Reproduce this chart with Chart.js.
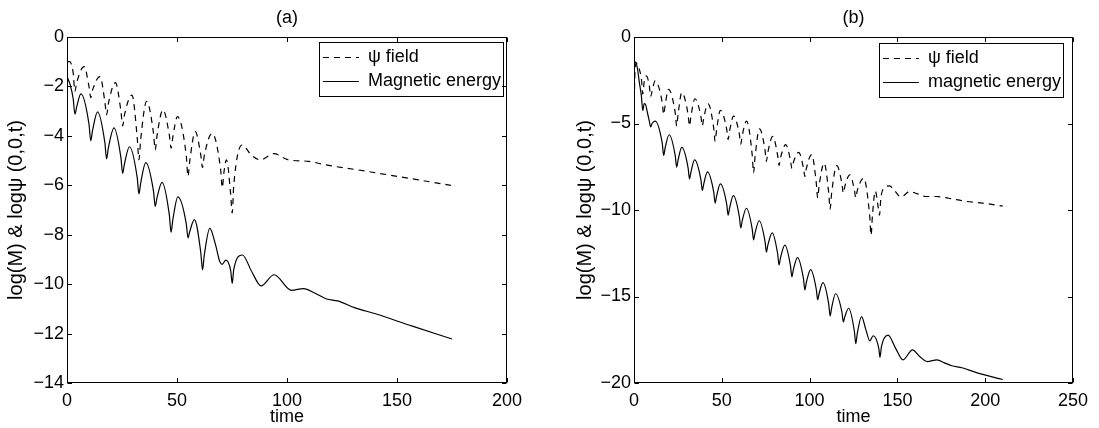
<!DOCTYPE html>
<html>
<head>
<meta charset="utf-8">
<script src="https://cdn.jsdelivr.net/npm/chart.js@4.4.1/dist/chart.umd.min.js"></script>
<style>
  html, body { margin: 0; padding: 0; background: #fff; overflow: hidden; }
  #panelA { position: absolute; left: 0; top: 0; }
  #panelB { position: absolute; left: 560px; top: 0; }
</style>
</head>
<body>
<canvas id="panelA" width="530" height="428"></canvas>
<canvas id="panelB" width="539" height="428"></canvas>
<script>
"use strict";

// ---- panel (a) ----
const timeMagA = [0, 1.5, 2.8, 3.6, 4.4, 6.3, 10.0, 10.8, 11.6, 13.9, 17.2, 18.0, 18.8, 21.4, 24.5, 25.3, 26.1, 28.4,
  31.9, 32.7, 33.5, 35.8, 39.3, 40.1, 40.9, 43.2, 46.5, 47.3, 48.1, 50.4, 54.2, 55.0, 55.8, 57.9, 60.8, 61.6, 62.4,
  64.9, 67.5, 69.5, 70.5, 72.2, 74.4, 75.1, 75.8, 79.7, 84.0, 88.2, 94.1, 102.1, 107.5, 113.0, 118.0, 123.0, 131.0,
  140.2, 157.0, 175.0];
const magA = [-1.6, -1.95, -2.5, -3.12, -2.83, -2.3, -3.53, -4.2, -3.79, -3.03, -4.27, -4.93, -4.49, -3.68, -4.88, -5.52, -5.14, -4.44,
  -5.68, -6.35, -5.91, -5.08, -6.23, -6.85, -6.51, -5.88, -7.19, -7.9, -7.4, -6.47, -7.55, -8.13, -7.87, -7.39, -8.71, -9.42, -8.83,
  -7.74, -8.4, -9.1, -9.2, -9.03, -9.45, -9.97, -9.4, -8.82, -9.5, -10.07, -9.62, -10.25, -10.18, -10.38, -10.6, -10.68, -10.96,
  -11.2, -11.7, -12.22];

const timePsiA = [0, 1.2, 2.8, 3.6, 4.4, 7.8, 10.0, 10.8, 11.6, 15.0, 17.2, 18.0, 18.8, 22.0, 24.5, 25.3, 26.1, 29.5,
  31.9, 32.7, 33.5, 36.2, 39.3, 40.1, 40.9, 43.6, 46.5, 47.3, 48.1, 50.2, 54.2, 55.0, 55.8, 58.3, 60.8, 61.6, 62.4,
  66.0, 69.8, 70.6, 71.3, 72.5, 74.4, 75.1, 75.8, 79.6, 84.0, 88.0, 94.0, 100.7, 109.8, 117.3, 132.4, 174.5];
const psiA = [-1.0, -1.0, -1.45, -2.2, -1.85, -1.2, -2.01, -2.45, -2.15, -1.6, -2.61, -3.15, -2.7, -1.85, -2.99, -3.6, -3.16, -2.35,
  -4.05, -4.97, -4.14, -2.6, -3.88, -4.57, -4.0, -2.95, -3.96, -4.5, -4.05, -3.22, -4.79, -5.64, -5.01, -3.83, -4.77, -5.28, -4.8,
  -3.9, -5.33, -6.1, -5.5, -4.97, -6.37, -7.12, -6.0, -4.37, -4.8, -4.97, -4.72, -4.97, -5.03, -5.17, -5.38, -6.0];

const xTicksA = [0, 50, 100, 150, 200];
const yTicksA = [0, -2, -4, -6, -8, -10, -12, -14];

// ---- panel (b) ----
const timeMagB = [0, 1.0, 2.0, 3.0, 4.2, 5.0, 5.8, 6.6, 7.6, 8.7, 9.5, 10.3, 12.0, 16.1, 16.9, 17.7, 20.0, 23.5, 24.3, 25.1,
  27.2, 30.8, 31.6, 32.4, 34.5, 38.1, 38.9, 39.7, 41.8, 45.4, 46.2, 47.0, 49.2, 52.8, 53.6, 54.4, 56.6, 60.0, 60.8, 61.6,
  64.0, 67.3, 68.1, 68.9, 71.3, 74.6, 75.4, 76.2, 78.7, 81.8, 82.6, 83.4, 85.9, 89.1, 89.9, 90.7, 93.1, 96.5, 97.3, 98.1,
  100.6, 103.8, 104.6, 105.4, 107.6, 110.9, 111.7, 112.5, 114.8, 118.4, 119.2, 120.0, 122.2, 125.5, 126.3, 127.1, 129.6,
  132.0, 134.3, 136.2, 139.4, 140.1, 140.9, 144.7, 149.0, 153.2, 158.6, 163.0, 167.0, 172.6, 176.5, 181.0, 186.8, 195.0, 210.0];
const magB = [-1.55, -1.45, -1.85, -2.6, -3.4, -4.25, -3.85, -3.9, -4.35, -4.85, -5.2, -5.0, -4.86, -6.15, -6.85, -6.43, -5.65, -6.87, -7.52, -7.12,
  -6.38, -7.56, -8.2, -7.82, -7.1, -8.25, -8.87, -8.5, -7.8, -8.97, -9.6, -9.21, -8.49, -9.67, -10.3, -9.9, -9.17, -10.39, -11.04, -10.64,
  -9.9, -11.09, -11.73, -11.34, -10.62, -11.8, -12.43, -12.04, -11.32, -12.53, -13.18, -12.78, -12.03, -13.22, -13.86, -13.47, -12.75, -13.97, -14.62, -14.21,
  -13.45, -14.58, -15.19, -14.84, -14.2, -15.45, -16.13, -15.68, -14.84, -15.9, -16.47, -16.19, -15.68, -17.01, -17.72, -17.17, -16.16,
  -16.9, -17.56, -17.27, -18.0, -18.52, -17.9, -17.23, -18.0, -18.66, -18.08, -18.5, -18.76, -18.66, -18.82, -19.0, -19.12, -19.4, -19.8];

const timePsiB = [0, 0.5, 1.2, 2.0, 3.4, 4.3, 5.0, 5.8, 7.0, 8.7, 9.5, 10.3, 12.0, 16.1, 16.9, 17.7, 19.6, 23.5, 24.3, 25.1,
  27.2, 30.8, 31.6, 32.4, 34.7, 38.1, 38.9, 39.7, 42.2, 45.4, 46.2, 47.0, 49.2, 52.8, 53.6, 54.4, 56.7, 60.0, 60.8, 61.6,
  64.1, 67.3, 68.1, 68.9, 71.5, 74.6, 75.4, 76.2, 79.0, 81.8, 82.6, 83.4, 86.4, 89.1, 89.9, 90.7, 93.8, 96.5, 97.3, 98.1,
  101.2, 103.8, 104.6, 105.4, 108.3, 110.9, 111.7, 112.5, 115.5, 118.4, 119.2, 120.0, 122.9, 125.5, 126.3, 127.1, 130.8,
  134.2, 135.0, 135.8, 137.4, 139.0, 139.8, 140.6, 142.8, 145.5, 148.5, 152.0, 157.0, 161.0, 166.0, 172.0, 179.2, 189.0, 198.5, 210.0];
const psiB = [-4.3, -2.2, -1.5, -1.6, -2.0, -2.5, -3.3, -2.6, -2.25, -2.8, -3.45, -3.13, -2.54, -3.8, -4.48, -3.97, -3.02, -4.4, -5.15, -4.47,
  -3.22, -4.47, -5.14, -4.59, -3.57, -4.59, -5.14, -4.69, -3.86, -5.27, -6.03, -5.4, -4.24, -5.34, -5.93, -5.45, -4.57, -5.62, -6.19, -5.72,
  -4.86, -6.8, -7.85, -6.96, -5.31, -6.53, -7.19, -6.68, -5.74, -6.84, -7.43, -7.0, -6.22, -7.12, -7.6, -7.27, -6.67, -7.57, -8.06, -7.62,
  -6.8, -8.43, -9.31, -8.6, -7.29, -9.02, -9.95, -9.07, -7.44, -8.47, -9.03, -8.66, -7.97, -8.83, -9.3, -8.9, -8.16,
  -10.3, -11.45, -10.3, -8.9, -9.8, -10.3, -9.3, -8.7, -8.6, -8.9, -9.25, -8.93, -9.05, -9.22, -9.22, -9.32, -9.5, -9.6, -9.78];

const xTicksB = [0, 50, 100, 150, 200, 250];
const yTicksB = [0, -5, -10, -15, -20];

Chart.defaults.font.family = "'Liberation Sans', Arial, Helvetica, sans-serif";
Chart.defaults.font.size = 18;
Chart.defaults.color = "#000";

const toPoints = (ts, vs) => ts.map((t, i) => ({ x: t, y: vs[i] }));
const minus = (v) => String(v).replace("-", "\u2212");

// box around the plot and MATLAB-like inward ticks on all four sides
const frame = {
  id: "frame",
  afterDraw(chart) {
    const { ctx, chartArea: a, scales: { x, y } } = chart;
    const L = Math.round(a.left) + 0.5, R = Math.round(a.right) - 0.5;
    const T = Math.round(a.top) + 0.5, B = Math.round(a.bottom) - 0.5;
    const len = 4.5;
    ctx.save();
    ctx.strokeStyle = "#000";
    ctx.lineWidth = 1;
    ctx.strokeRect(L, T, R - L, B - T);
    ctx.beginPath();
    x.ticks.forEach((tk) => {
      const px = Math.round(x.getPixelForValue(tk.value)) + 0.5;
      ctx.moveTo(px, B); ctx.lineTo(px, B - len);
      ctx.moveTo(px, T); ctx.lineTo(px, T + len);
    });
    y.ticks.forEach((tk) => {
      const py = Math.round(y.getPixelForValue(tk.value)) + 0.5;
      ctx.moveTo(L, py); ctx.lineTo(L + len, py);
      ctx.moveTo(R, py); ctx.lineTo(R - len, py);
    });
    ctx.stroke();
    ctx.restore();
  },
};

// put the legend in the top right corner of the plot and draw its box
const legendPlace = {
  id: "legendPlace",
  afterLayout(chart, args, opts) {
    const lg = chart.legend;
    const ca = chart.chartArea;
    if (!lg || !lg.columnSizes) return;
    const pad = lg.options.labels.padding;
    const colW = lg.columnSizes[0].width;
    lg.left = ca.right - opts.right - colW - pad;
    lg.width = colW + 2 * pad + 4;
    lg.right = lg.left + lg.width;
    lg.top = ca.top + opts.top;
    lg.height = 80;
    lg.bottom = lg.top + lg.height;
  },
  afterDraw(chart, args, opts) {
    const lg = chart.legend;
    if (!lg || !lg.columnSizes) return;
    const pad = lg.options.labels.padding;
    const colW = lg.columnSizes[0].width;
    const x0 = Math.round(lg.left + pad - 4) + 0.5;
    const x1 = Math.round(lg.left + pad + colW + 2) + 0.5;
    const y0 = Math.round(lg.top + pad - 6.5) + 0.5;
    const y1 = Math.round(lg.top + pad + 18 + 24 + 5) + 0.5;
    const ctx = chart.ctx;
    ctx.save();
    ctx.strokeStyle = "#000";
    ctx.lineWidth = 1;
    ctx.strokeRect(x0, y0, x1 - x0, y1 - y0);
    ctx.restore();
  },
};

function makePanel(canvas, cfg) {
  return new Chart(canvas, {
    type: "line",
    data: {
      datasets: [
        {
          label: "\u03c8 field",
          data: toPoints(cfg.timePsi, cfg.psi),
          borderColor: "#000",
          backgroundColor: "#000",
          borderWidth: 1.2,
          borderDash: [6, 5],
          pointRadius: 0,
          cubicInterpolationMode: "monotone",
        },
        {
          label: cfg.magLabel,
          data: toPoints(cfg.timeMag, cfg.mag),
          borderColor: "#000",
          backgroundColor: "#000",
          borderWidth: 1.2,
          pointRadius: 0,
          cubicInterpolationMode: "monotone",
        },
      ],
    },
    options: {
      responsive: false,
      animation: false,
      events: [],
      layout: { padding: { left: 0, right: cfg.padRight, top: 0, bottom: 0 } },
      scales: {
        x: {
          type: "linear",
          min: cfg.xTicks[0],
          max: cfg.xTicks[cfg.xTicks.length - 1],
          afterBuildTicks: (s) => { s.ticks = cfg.xTicks.map((v) => ({ value: v })); },
          afterFit: (s) => { s.height = 45; },
          grid: { display: false, drawTicks: false },
          border: { display: false },
          ticks: { padding: 7, maxRotation: 0, autoSkip: false, callback: minus },
          title: { display: true, text: "time", padding: { top: 0, bottom: 0 } },
        },
        y: {
          type: "linear",
          min: cfg.yTicks[cfg.yTicks.length - 1],
          max: cfg.yTicks[0],
          afterBuildTicks: (s) => { s.ticks = cfg.yTicks.map((v) => ({ value: v })); },
          afterFit: (s) => { s.width = cfg.yWidth; },
          grid: { display: false, drawTicks: false },
          border: { display: false },
          ticks: { padding: 3, autoSkip: false, callback: minus },
          title: {
            display: true,
            text: "log(M) & log\u03c8 (0,0,t)",
            font: { size: 20 },
            padding: { top: cfg.yTitlePad, bottom: 0 },
          },
        },
      },
      plugins: {
        title: {
          display: true,
          text: cfg.title,
          fullSize: false,
          color: "#000",
          font: { size: 18, weight: "normal" },
          padding: { top: 7, bottom: 8.4 },
        },
        legend: {
          position: "chartArea",
          align: "start",
          labels: { boxWidth: 36, boxHeight: 0, padding: 6, color: "#000", font: { size: 18 } },
        },
        tooltip: { enabled: false },
        legendPlace: { right: cfg.legendRight, top: cfg.legendTop },
      },
    },
    plugins: [legendPlace, frame],
  });
}

makePanel(document.getElementById("panelA"), {
  title: "(a)",
  magLabel: "Magnetic energy",
  timeMag: timeMagA, mag: magA,
  timePsi: timePsiA, psi: psiA,
  xTicks: xTicksA, yTicks: yTicksA,
  padRight: 23, yWidth: 67, yTitlePad: 4,
  legendRight: 6, legendTop: 5.5,
});

makePanel(document.getElementById("panelB"), {
  title: "(b)",
  magLabel: "magnetic energy",
  timeMag: timeMagB, mag: magB,
  timePsi: timePsiB, psi: psiB,
  xTicks: xTicksB, yTicks: yTicksB,
  padRight: 26, yWidth: 74, yTitlePad: 13,
  legendRight: 12, legendTop: 6.5,
});
</script>
</body>
</html>
